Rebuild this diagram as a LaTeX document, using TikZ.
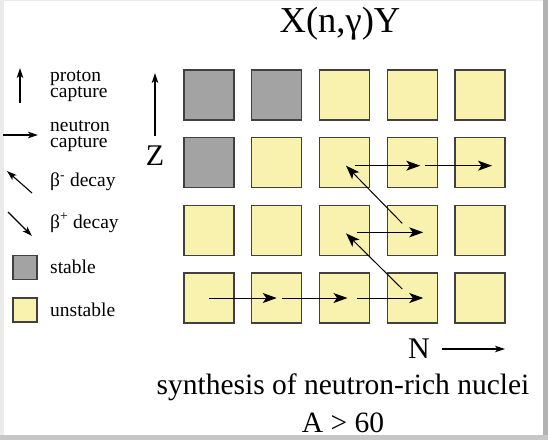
\documentclass[tikz,border=0pt]{standalone}
\usepackage{fontspec}
\setmainfont{Liberation Serif}
\usetikzlibrary{arrows.meta, positioning, calc}
\definecolor{stablegrey}{RGB}{163,163,163}
\definecolor{unstableyel}{RGB}{248,242,174}
\definecolor{cellline}{RGB}{64,64,64}
\tikzset{
  cell/.style     = {draw=cellline, line width=1.4pt, minimum size=50pt, inner sep=0pt},
  stab/.style     = {cell, fill=stablegrey},
  unst/.style     = {cell, fill=unstableyel},
  legcell/.style  = {draw=cellline, line width=1.2pt, minimum size=24pt, inner sep=0pt},
  arrow/.style    = {-{Stealth[length=14pt, width=10pt, inset=3.5pt]}, line width=1pt},
  smallarrow/.style = {-{Stealth[length=10pt, width=6.5pt, inset=2.5pt]}, line width=1.1pt},
  legtext/.style  = {font=\fontsize{19.5}{16}\selectfont, anchor=west, align=left, inner sep=0pt},
  axis/.style     = {font=\fontsize{30}{32}\selectfont, inner sep=2pt},
  caption/.style  = {font=\fontsize{29.5}{32}\selectfont},
}

\begin{document}
\begin{tikzpicture}[x=1pt, y=-1pt]

  % frame
  \fill[black!8] (0,0) rectangle (548,440);
  \fill[black!30] (543,0) rectangle (548,440);
  \fill[black!22] (0,435) rectangle (548,440);
  \fill[white] (4,1) rectangle (543,435);
  \useasboundingbox (0,0) rectangle (548,440);

  \node[font=\fontsize{36.5}{40}\selectfont] (title) at (340,24) {X(n,γ)Y};

  % chart of nuclides, column i, row j
  \foreach \i in {1,...,5} {
    \foreach \j in {1,...,4} {
      \node[unst] (c-\i-\j) at ({209+67.75*(\i-1)},{95+67.67*(\j-1)}) {};
    }
  }
  \foreach \i/\j in {1/1, 2/1, 1/2} {
    \node[stab] at (c-\i-\j) {};
  }

  % capture path
  \draw[arrow] (c-1-4.center) -- ($(c-2-4)+(0,0)$);
  \draw[arrow] ($(c-2-4)+(5,0)$) -- ($(c-3-4)+(3,0)$);
  \draw[arrow] ($(c-3-4)+(12,0)$) -- ($(c-4-4)+(11,0)$);
  \draw[arrow] ($(c-4-4)+(-10,-9)$) -- ($(c-3-3)+(1.5,3)$);
  \draw[arrow] ($(c-3-3)+(12,2)$) -- ($(c-4-3)+(11,2)$);
  \draw[arrow] ($(c-4-3)+(-10,-7)$) -- ($(c-3-2)+(1.5,3)$);
  \draw[arrow] ($(c-3-2)+(10,3)$) -- ($(c-4-2)+(8,3)$);
  \draw[arrow] ($(c-4-2)+(13,3)$) -- ($(c-5-2)+(12,3)$);

  % axes
  \node[axis] (zlab) at (155,156) {Z};
  \coordinate (ztip) at (155,73);
  \draw[smallarrow, shorten <=8pt] (zlab) -- (ztip);
  \node[axis] (nlab) at (419,349) {N};
  \coordinate (ntip) at (505,349);
  \draw[smallarrow, shorten <=10pt] (nlab) -- (ntip);

  \node[caption] (synth) at (343,387) {synthesis of neutron-rich nuclei};
  \node[caption] (mass) at (343,423) {A > 60};

  % legend
  \coordinate (pfrom) at (20,103);
  \coordinate (pto) at (20,68);
  \draw[smallarrow] (pfrom) -- (pto);
  \node[legtext] (ptext) at (50,86) {proton\\capture};

  \coordinate (nfrom) at (3,135);
  \coordinate (nto) at (38,135);
  \draw[smallarrow] (nfrom) -- (nto);
  \node[legtext] (ntext) at (50,136) {neutron\\capture};

  \coordinate (bmfrom) at (32,193);
  \coordinate (bmto) at (7,171);
  \draw[smallarrow] (bmfrom) -- (bmto);
  \node[legtext] (bmtext) at (50,182) {β\textsuperscript{-} decay};

  \coordinate (bpfrom) at (8,212);
  \coordinate (bpto) at (32,236);
  \draw[smallarrow] (bpfrom) -- (bpto);
  \node[legtext] (bptext) at (50,223) {β\textsuperscript{+} decay};

  \node[legcell, fill=stablegrey] (lstab) at (25,267.5) {};
  \node[legtext] (stext) at (50,267) {stable};
  \node[legcell, fill=unstableyel] (lunst) at (25,310) {};
  \node[legtext] (utext) at (50,310) {unstable};

\end{tikzpicture}
\end{document}
